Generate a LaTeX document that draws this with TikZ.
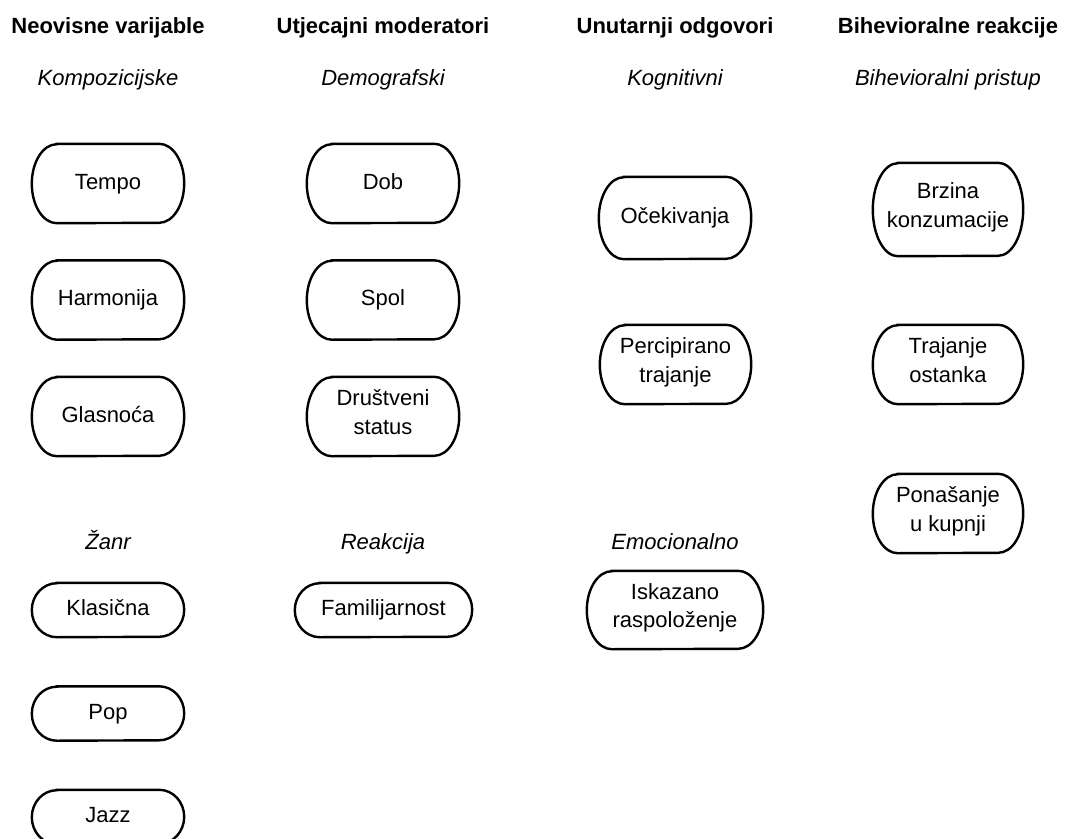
\documentclass[tikz,border=0pt]{standalone}
\usepackage{fontspec}
\setmainfont{Liberation Sans}
\newcommand\bigsz{\fontsize{22}{28.5}\selectfont}
\tikzset{
  pill/.style 2 args={minimum width=#1pt, minimum height=#2pt, inner sep=0pt, align=center, font=\bigsz,
    execute at begin node=\strut, execute at end node=\strut,
    append after command={\pgfextra{\let\pl\tikzlastnode
      \draw[line width=2.4pt] ([xshift=25pt]\pl.north west) -- ([xshift=-25pt]\pl.north east)
        arc[start angle=90, end angle=-90, x radius=25pt, y radius=#2pt/2]
        -- ([xshift=25pt]\pl.south west)
        arc[start angle=270, end angle=90, x radius=25pt, y radius=#2pt/2] -- cycle;}}},
  head/.style={font=\bigsz\bfseries, anchor=base},
  sub/.style={font=\bigsz\itshape, anchor=base}
}
\begin{document}
\begin{tikzpicture}[x=1pt, y=1pt]
\clip (0,0) rectangle (1084,-838);
\fill[white] (0,0) rectangle (1084,-838);
% headings
\node[head] (h1) at (108,-33) {Neovisne varijable};
\node[head] (h2) at (383,-33) {Utjecajni moderatori};
\node[head] (h3) at (675,-33) {Unutarnji odgovori};
\node[head] (h4) at (948,-33) {Bihevioralne reakcije};
\node[sub] (kom) at (108,-85) {Kompozicijske};
\node[sub] (dem) at (383,-85) {Demografski};
\node[sub] (kog) at (675,-85) {Kognitivni};
\node[sub] (bih) at (948,-85) {Bihevioralni pristup};
\node[sub] (zan) at (108,-549) {Žanr};
\node[sub] (rea) at (383,-549) {Reakcija};
\node[sub] (emo) at (675,-549) {Emocionalno};

\node[pill={152}{79}] (tempo) at (108,-183.5) {Tempo};
\node[pill={152}{79}] (harm) at (108,-300) {Harmonija};
\node[pill={152}{79}] (glas) at (108,-416.5) {Glasnoća};
\node[pill={152}{54}] (klas) at (108,-610) {Klasična};
\node[pill={152}{54}] (pop) at (108,-713.5) {Pop};
\node[pill={152}{54}] (jazz) at (108,-817) {Jazz};

\node[pill={152}{79}] (dob) at (383,-183.5) {Dob};
\node[pill={152}{79}] (spol) at (383,-300) {Spol};
\node[pill={152}{79}] (drus) at (383,-416.5) {Društveni\\status};
\node[pill={177}{54}] (fam) at (383.5,-610) {Familijarnost};

\node[pill={152}{82}] (ocek) at (675,-218) {Očekivanja};
\node[pill={151}{79}] (perc) at (675.5,-364.5) {Percipirano\\trajanje};
\node[pill={176}{78}] (iska) at (675,-610) {Iskazano\\raspoloženje};

\node[pill={150}{93}] (brz) at (948,-209.5) {Brzina\\konzumacije};
\node[pill={150}{79}] (traj) at (948,-364.5) {Trajanje\\ostanka};
\node[pill={150}{79}] (pona) at (948,-513.5) {Ponašanje\\u kupnji};
\end{tikzpicture}
\end{document}
